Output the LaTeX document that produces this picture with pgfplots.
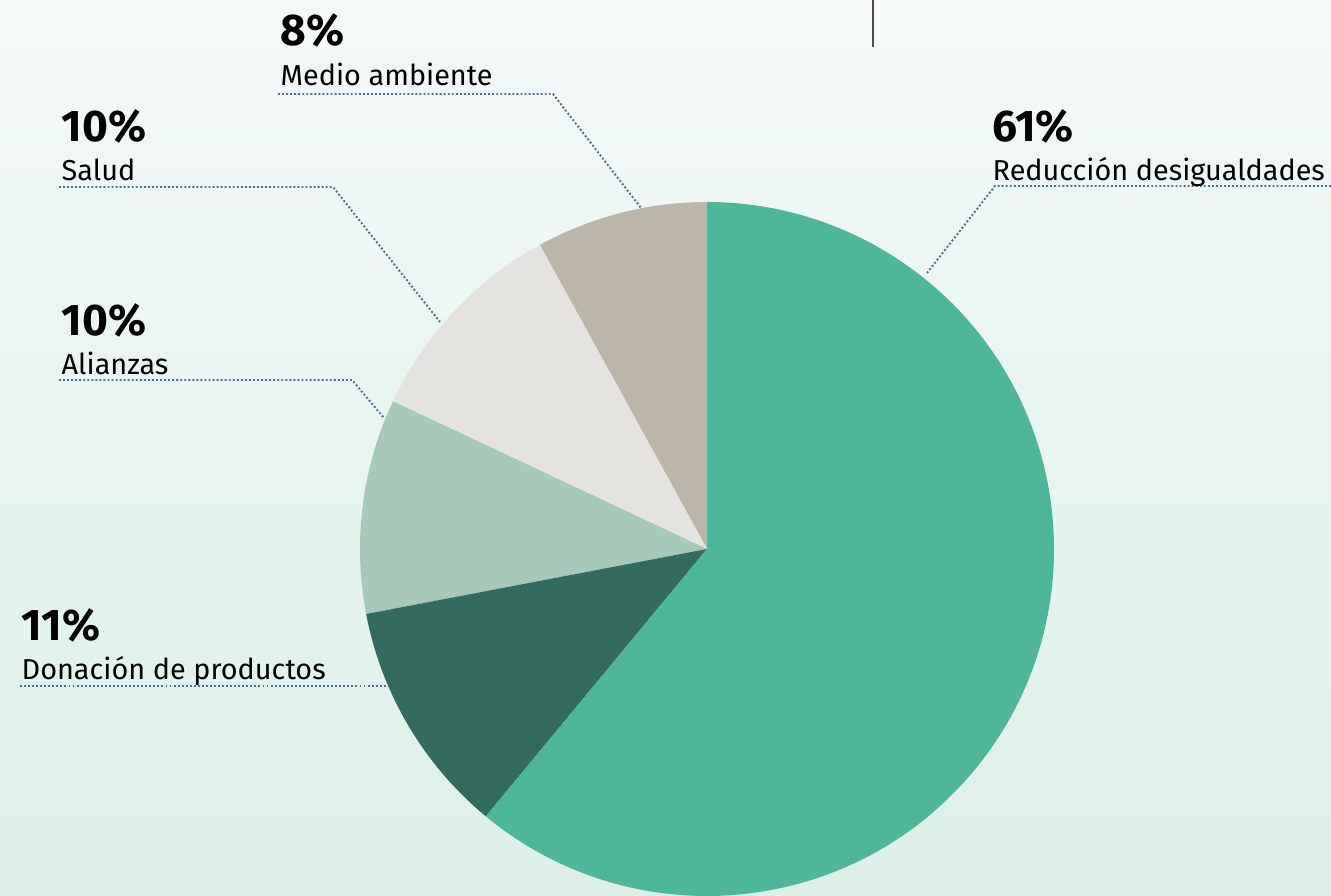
\documentclass[border=0pt]{standalone}
\usepackage{fontspec}
\setmainfont{Fira Sans}
\usepackage{pgfplots}
\pgfplotsset{compat=1.18}
\definecolor{cRed}{HTML}{4FB799}
\definecolor{cDon}{HTML}{336B5F}
\definecolor{cAli}{HTML}{A6C9BA}
\definecolor{cSal}{HTML}{E4E3DF}
\definecolor{cMed}{HTML}{BCB5A9}
\definecolor{bgtop}{HTML}{F4F9F8}
\definecolor{bgbot}{HTML}{DCF0E8}
\definecolor{leadc}{HTML}{4A7090}
\newcommand\pct[1]{{\fontsize{12.6pt}{14pt}\selectfont\bfseries #1}}
\newcommand\lab[1]{{\fontsize{8.2pt}{10pt}\selectfont #1}}
\begin{document}
\begin{tikzpicture}
\pgfmathsetmacro\aA{90}
\pgfmathsetmacro\aB{\aA+3.6*8}
\pgfmathsetmacro\aC{\aB+3.6*10}
\pgfmathsetmacro\aD{\aC+3.6*10}
\pgfmathsetmacro\aE{\aD+3.6*11}
\pgfmathsetmacro\aF{\aE+3.6*61}
\begin{axis}[name=ax, scale only axis, width=133.1mm, height=89.5mm,
  xmin=0, xmax=1331, ymin=0, ymax=895, hide axis, clip=false,
  leader/.style={leadc, line width=0.55pt, dash pattern=on 0.55pt off 0.6pt, no marks}]
\shade[top color=bgtop, bottom color=bgbot] (axis cs:0,0) rectangle (axis cs:1331,895);
\fill[cMed] (axis cs:707,346) -- ++(\aA:34.7mm) arc[start angle=\aA, end angle=\aB, radius=34.7mm] -- cycle;
\fill[cSal] (axis cs:707,346) -- ++(\aB:34.7mm) arc[start angle=\aB, end angle=\aC, radius=34.7mm] -- cycle;
\fill[cAli] (axis cs:707,346) -- ++(\aC:34.7mm) arc[start angle=\aC, end angle=\aD, radius=34.7mm] -- cycle;
\fill[cDon] (axis cs:707,346) -- ++(\aD:34.7mm) arc[start angle=\aD, end angle=\aE, radius=34.7mm] -- cycle;
\fill[cRed] (axis cs:707,346) -- ++(\aE:34.7mm) arc[start angle=\aE, end angle=\aF, radius=34.7mm] -- cycle;
\draw[black!70, line width=0.6pt] (axis cs:873,895) -- (axis cs:873,848);
\addplot[leader] coordinates {(278,801) (553,801) (641,687)};
\addplot[leader] coordinates {(59,708) (333,708) (440,573)};
\addplot[leader] coordinates {(59,515) (352,515) (384,477)};
\addplot[leader] coordinates {(20,209) (388,209)};
\addplot[leader] coordinates {(1331,709) (995,709) (927,622)};
\node[anchor=base west, inner sep=0pt] at (axis cs:280,849) {\pct{8\%}};
\node[anchor=base west, inner sep=0pt] at (axis cs:280,809) {\lab{Medio ambiente}};
\node[anchor=base west, inner sep=0pt] at (axis cs:61,753) {\pct{10\%}};
\node[anchor=base west, inner sep=0pt] at (axis cs:61,714) {\lab{Salud}};
\node[anchor=base west, inner sep=0pt] at (axis cs:61,559) {\pct{10\%}};
\node[anchor=base west, inner sep=0pt] at (axis cs:61,520) {\lab{Alianzas}};
\node[anchor=base west, inner sep=0pt] at (axis cs:21,254) {\pct{11\%}};
\node[anchor=base west, inner sep=0pt] at (axis cs:21,215) {\lab{Donación de productos}};
\node[anchor=base west, inner sep=0pt] at (axis cs:992,753) {\pct{61\%}};
\node[anchor=base west, inner sep=0pt] at (axis cs:992,714) {\lab{Reducción desigualdades}};
\end{axis}
\pgfresetboundingbox
\path[use as bounding box] (ax.south west) rectangle (ax.north east);
\end{tikzpicture}
\end{document}
